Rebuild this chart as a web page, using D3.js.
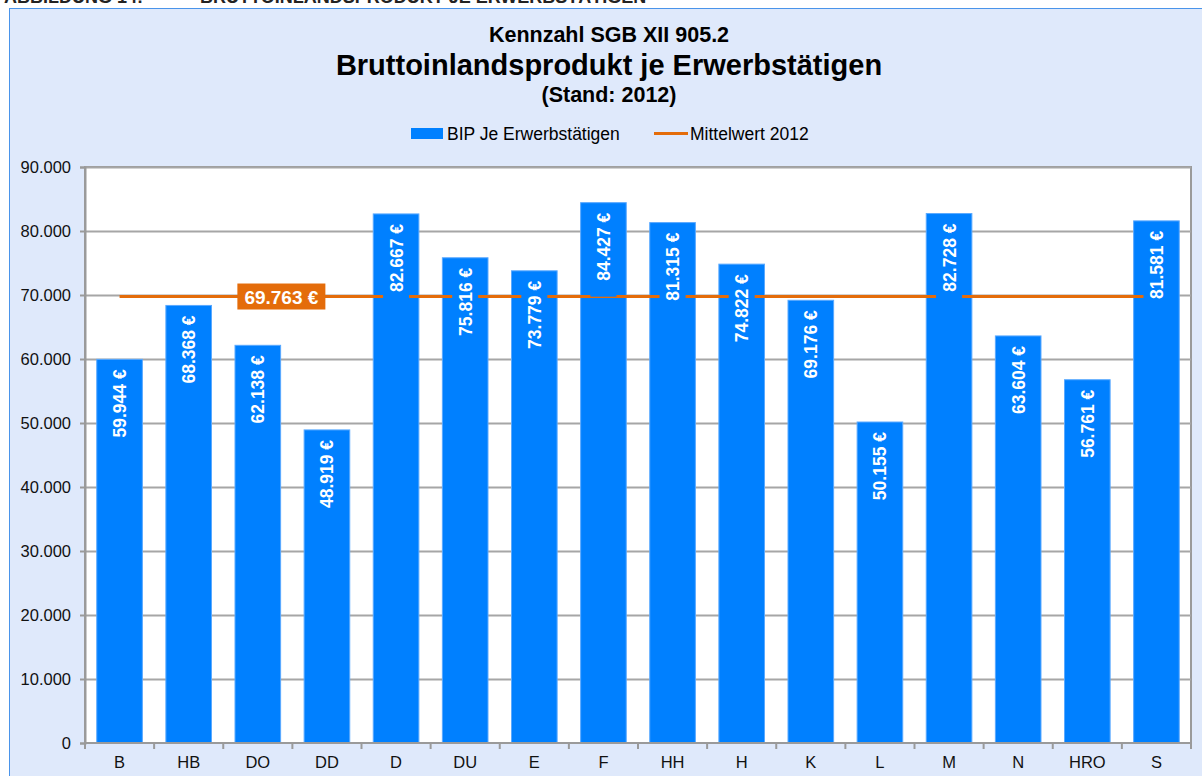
<!DOCTYPE html>
<html>
<head>
<meta charset="utf-8">
<script src="https://cdn.jsdelivr.net/npm/d3@7"></script>
<style>
  html, body { margin: 0; padding: 0; background: #fff; }
  svg { display: block; font-family: 'Liberation Sans', Arial, sans-serif; }
</style>
</head>
<body>
<svg width="1202" height="776"></svg>
<script>
const CITIES = ['B', 'HB', 'DO', 'DD', 'D', 'DU', 'E', 'F', 'HH', 'H', 'K', 'L', 'M', 'N', 'HRO', 'S']
const BIP_VALUES = [59944, 68368, 62138, 48919, 82667, 75816, 73779, 84427, 81315, 74822, 69176, 50155, 82728, 63604, 56761, 81581]
const MEAN_2012 = 69763
const Y_TICKS = [0, 10000, 20000, 30000, 40000, 50000, 60000, 70000, 80000, 90000]
const SERIES_NAMES = ['BIP Je Erwerbstätigen', 'Mittelwert 2012']

const BAR_COLOR = '#0080ff'
const LINE_COLOR = '#e46c0a'

const M = { left: 85, right: 1191, top: 167, bottom: 743 }

const de = d3.formatLocale({ decimal: ',', thousands: '.', grouping: [3], currency: ['', ' €'] })
const fmtNum = de.format(',.0f')
const fmtEuro = v => fmtNum(v) + ' €'

const svg = d3.select('svg')

// page caption, cut off at the top like in the source document
svg.append('text')
  .attr('x', 4).attr('y', 3)
  .attr('font-size', 18).attr('font-weight', 'bold').attr('fill', '#222')
  .text('ABBILDUNG 14:')
svg.append('text')
  .attr('x', 200).attr('y', 3)
  .attr('font-size', 18).attr('font-weight', 'bold').attr('fill', '#222')
  .text('BRUTTOINLANDSPRODUKT JE ERWERBSTÄTIGEN')

svg.append('rect')
  .attr('x', 9.5).attr('y', 8.5).attr('width', 1200).attr('height', 780)
  .attr('fill', '#dfe9fb').attr('stroke', '#4a94ea').attr('stroke-width', 1)

// titles
const titles = [
  { t: 'Kennzahl SGB XII 905.2', y: 42, s: 21.5 },
  { t: 'Bruttoinlandsprodukt je Erwerbstätigen', y: 75, s: 29 },
  { t: '(Stand: 2012)', y: 102, s: 21.5 }
]
svg.selectAll('.title').data(titles).enter().append('text')
  .attr('class', 'title')
  .attr('x', 609).attr('y', d => d.y)
  .attr('text-anchor', 'middle').attr('font-weight', 'bold')
  .attr('font-size', d => d.s).attr('fill', '#000')
  .text(d => d.t)

// legend
const legend = svg.append('g').attr('font-size', 17.5).attr('fill', '#000')
legend.append('rect').attr('x', 411).attr('y', 128).attr('width', 32).attr('height', 11).attr('fill', BAR_COLOR)
legend.append('text').attr('x', 447).attr('y', 140).text(SERIES_NAMES[0])
legend.append('line').attr('x1', 654).attr('x2', 688).attr('y1', 133.5).attr('y2', 133.5)
  .attr('stroke', LINE_COLOR).attr('stroke-width', 3)
legend.append('text').attr('x', 690).attr('y', 140).text(SERIES_NAMES[1])

// scales
const x = d3.scaleBand().domain(CITIES).range([M.left, M.right]).paddingInner(0.34).paddingOuter(0.17)
const xCat = d3.scaleBand().domain(CITIES).range([M.left, M.right])
const y = d3.scaleLinear().domain([0, 90000]).range([M.bottom, M.top])

// plot area
svg.append('rect')
  .attr('x', M.left).attr('y', M.top).attr('width', M.right - M.left).attr('height', M.bottom - M.top)
  .attr('fill', '#fff').attr('stroke', '#9a9a9a').attr('stroke-width', 2)

svg.append('g').selectAll('line').data(Y_TICKS.slice(1)).enter().append('line')
  .attr('x1', M.left).attr('x2', M.right)
  .attr('y1', d => Math.round(y(d)) + 0.5).attr('y2', d => Math.round(y(d)) + 0.5)
  .attr('stroke', '#a6a6a6').attr('stroke-width', 2)

// bars
svg.append('g').selectAll('rect').data(BIP_VALUES).enter().append('rect')
  .attr('x', (d, i) => x(CITIES[i]))
  .attr('y', d => y(d))
  .attr('width', x.bandwidth())
  .attr('height', d => y(0) - y(d))
  .attr('fill', BAR_COLOR)
  .attr('stroke', '#5aa9ff').attr('stroke-width', 1)

// mean line
const lineData = CITIES.map(c => ({ c, v: MEAN_2012 }))
svg.append('path')
  .datum(lineData)
  .attr('d', d3.line().x(d => xCat(d.c) + xCat.bandwidth() / 2).y(d => y(d.v)))
  .attr('fill', 'none').attr('stroke', LINE_COLOR).attr('stroke-width', 3)

// bar labels (blue boxes cover the mean line like in Excel)
const labels = svg.append('g').selectAll('g').data(BIP_VALUES).enter().append('g')
  .attr('transform', (d, i) => `translate(${x(CITIES[i]) + x.bandwidth() / 2}, ${y(d) + 10}) rotate(-90)`)
labels.append('rect')
  .attr('x', -84).attr('y', -13).attr('width', 84).attr('height', 26)
  .attr('fill', BAR_COLOR)
labels.append('text')
  .attr('x', 0).attr('y', 6.5)
  .attr('text-anchor', 'end')
  .attr('font-size', 17.5).attr('font-weight', 'bold').attr('fill', '#fff')
  .text(fmtEuro)

// mean label
const meanLabel = svg.append('g').attr('transform', `translate(${xCat('DD') - 11}, ${y(MEAN_2012)})`)
meanLabel.append('rect').attr('x', -44).attr('y', -13).attr('width', 88).attr('height', 26).attr('fill', LINE_COLOR)
meanLabel.append('text').attr('x', 0).attr('y', 7).attr('text-anchor', 'middle')
  .attr('font-size', 19).attr('font-weight', 'bold').attr('fill', '#fff')
  .text(fmtEuro(MEAN_2012))

// axes
const yAxis = d3.axisLeft(y).tickValues(Y_TICKS).tickFormat(fmtNum).tickSize(5).tickPadding(9)
svg.append('g').attr('transform', `translate(${M.left}, 0)`).call(yAxis)
  .call(g => g.selectAll('text').attr('font-size', 16.5).attr('fill', '#111').attr('font-family', 'Liberation Sans, Arial, sans-serif'))
  .call(g => g.selectAll('line').attr('stroke', '#9a9a9a').attr('stroke-width', 2))
  .call(g => g.select('.domain').attr('stroke', '#9a9a9a').attr('stroke-width', 2))

const xAxisG = svg.append('g').attr('transform', `translate(0, ${M.bottom})`)
xAxisG.append('line').attr('x1', M.left).attr('x2', M.right).attr('y1', 0).attr('y2', 0)
  .attr('stroke', '#9a9a9a').attr('stroke-width', 2)
xAxisG.selectAll('.tk').data(CITIES.concat([null])).enter().append('line')
  .attr('x1', d => d ? xCat(d) : M.right).attr('x2', d => d ? xCat(d) : M.right)
  .attr('y1', 0).attr('y2', 6)
  .attr('stroke', '#9a9a9a').attr('stroke-width', 2)
xAxisG.selectAll('text').data(CITIES).enter().append('text')
  .attr('x', d => xCat(d) + xCat.bandwidth() / 2).attr('y', 25)
  .attr('text-anchor', 'middle').attr('font-size', 16.5).attr('fill', '#111')
  .text(d => d)
</script>
</body>
</html>
